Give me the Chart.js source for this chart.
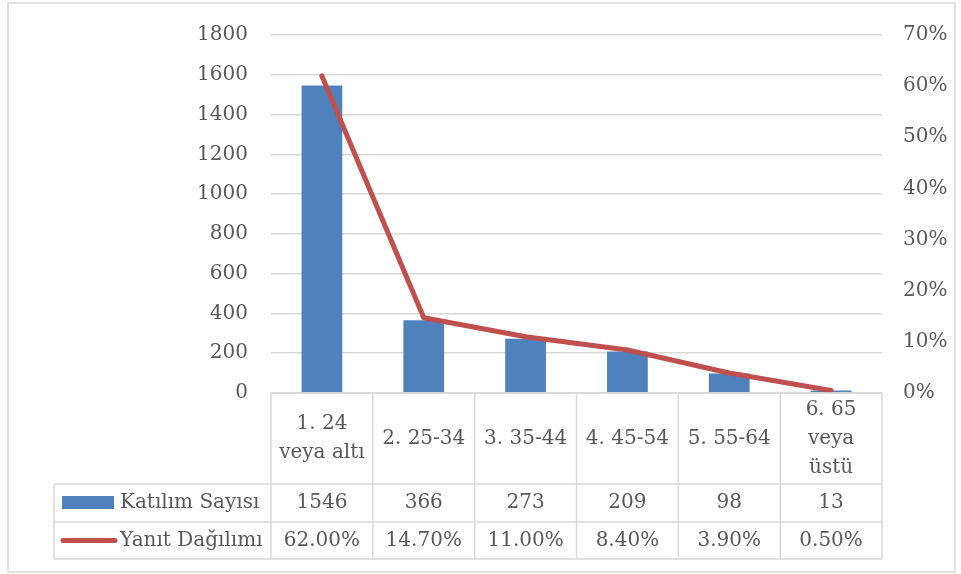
<!DOCTYPE html>
<html>
<head>
<meta charset="utf-8">
<script src="https://cdn.jsdelivr.net/npm/chart.js@4"></script>
<style>
  body { margin: 0; background: #fff; }
  #wrap { width: 961px; height: 574px; }
</style>
</head>
<body>
<div id="wrap"><canvas id="ageChart" width="961" height="574"></canvas></div>
<script>
(() => {
  'use strict'

  // Data
  const categories = [
    ['1. 24', 'veya altı'],
    ['2. 25-34'],
    ['3. 35-44'],
    ['4. 45-54'],
    ['5. 55-64'],
    ['6. 65', 'veya', 'üstü']
  ]
  const katilimSayisi = [1546, 366, 273, 209, 98, 13]
  const yanitDagilimi = [62.0, 14.7, 11.0, 8.4, 3.9, 0.5]
  const seriesNames = ['Katılım Sayısı', 'Yanıt Dağılımı']

  const textColor = '#595959'
  const lineColor = '#D9D9D9'
  const font = '20px "DejaVu Serif"'

  // draws the data table under the plot and the outer frame
  const dataTable = {
    id: 'dataTable',
    afterDraw (chart) {
      const { ctx, chartArea } = chart
      const n = categories.length
      const left = chartArea.left
      const right = chartArea.right
      const colW = (right - left) / n
      const top = chartArea.bottom
      const rows = [top, 484, 522, 559]
      const legendLeft = 54

      ctx.save()
      ctx.strokeStyle = lineColor
      ctx.lineWidth = 1.5
      ctx.beginPath()
      ctx.moveTo(left, rows[0]); ctx.lineTo(right, rows[0])
      for (let r = 1; r < rows.length; r++) {
        ctx.moveTo(legendLeft, rows[r]); ctx.lineTo(right, rows[r])
      }
      ctx.moveTo(legendLeft, rows[1]); ctx.lineTo(legendLeft, rows[3])
      for (let i = 0; i <= n; i++) {
        const x = left + i * colW
        ctx.moveTo(x, rows[0]); ctx.lineTo(x, rows[3])
      }
      ctx.stroke()

      // outer frame
      ctx.strokeRect(8, 3, 947, 569)

      ctx.fillStyle = textColor
      ctx.font = font
      ctx.textAlign = 'center'
      ctx.textBaseline = 'middle'
      const catMid = (rows[0] + rows[1]) / 2
      const r1 = (rows[1] + rows[2]) / 2
      const r2 = (rows[2] + rows[3]) / 2
      categories.forEach((lines, i) => {
        const cx = left + (i + 0.5) * colW
        lines.forEach((t, j) => {
          ctx.fillText(t, cx, catMid + (j - (lines.length - 1) / 2) * 29)
        })
        ctx.fillText(String(katilimSayisi[i]), cx, r1)
        ctx.fillText(yanitDagilimi[i].toFixed(2) + '%', cx, r2)
      })

      // legend keys
      ctx.fillStyle = '#4F81BD'
      ctx.fillRect(62, r1 - 7, 52, 13)
      ctx.strokeStyle = '#C0504D'
      ctx.lineWidth = 5
      ctx.lineCap = 'round'
      ctx.beginPath()
      ctx.moveTo(63, r2); ctx.lineTo(115, r2)
      ctx.stroke()

      ctx.fillStyle = textColor
      ctx.textAlign = 'left'
      ctx.fillText(seriesNames[0], 120, r1)
      ctx.fillText(seriesNames[1], 120, r2)
      ctx.restore()
    }
  }

  const ctx = document.getElementById('ageChart')
  // eslint-disable-next-line no-unused-vars
  const ageChart = new Chart(ctx, {
    type: 'bar',
    data: {
      labels: categories,
      datasets: [{
        type: 'line',
        label: seriesNames[1],
        data: yanitDagilimi,
        yAxisID: 'y1',
        borderColor: '#C0504D',
        borderWidth: 5,
        borderCapStyle: 'round',
        borderJoinStyle: 'round',
        pointRadius: 0,
        tension: 0,
        order: 0
      }, {
        type: 'bar',
        label: seriesNames[0],
        data: katilimSayisi,
        yAxisID: 'y',
        backgroundColor: '#4F81BD',
        barPercentage: 0.4,
        categoryPercentage: 1,
        order: 1
      }]
    },
    options: {
      responsive: false,
      animation: false,
      layout: {
        padding: { left: 0, right: 0, top: 32, bottom: 181 }
      },
      plugins: {
        legend: { display: false },
        tooltip: { enabled: false }
      },
      scales: {
        x: { display: false },
        y: {
          position: 'left',
          min: 0,
          max: 1800,
          ticks: {
            stepSize: 200,
            padding: 23,
            color: textColor,
            font: { family: 'DejaVu Serif', size: 20 },
            callback: (v) => String(v)
          },
          grid: { color: lineColor, lineWidth: 1.5, drawTicks: false },
          border: { display: false },
          afterFit: (s) => { s.width = 271 }
        },
        y1: {
          position: 'right',
          min: 0,
          max: 70,
          ticks: {
            stepSize: 10,
            padding: 21,
            color: textColor,
            font: { family: 'DejaVu Serif', size: 20 },
            callback: (v) => v + '%'
          },
          grid: { display: false, drawTicks: false },
          border: { display: false },
          afterFit: (s) => { s.width = 79 }
        }
      }
    },
    plugins: [dataTable]
  })
})()
</script>
</body>
</html>
